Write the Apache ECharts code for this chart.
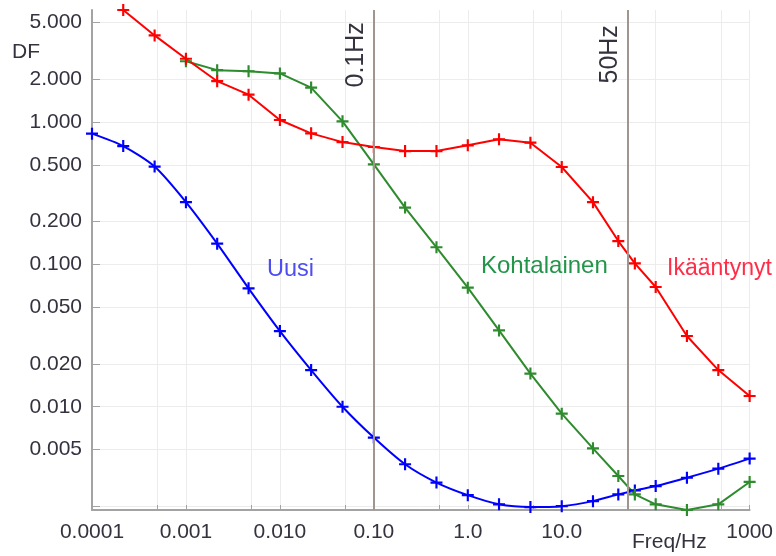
<!DOCTYPE html>
<html>
<head>
<meta charset="utf-8">
<script src="https://cdn.jsdelivr.net/npm/echarts@6/dist/echarts.min.js"></script>
<style>
  html, body { margin: 0; padding: 0; background: #ffffff; }
  #chart { width: 776px; height: 556px; }
</style>
</head>
<body>
<div id="chart"></div>
<script>
// Measurement frequencies (Hz); 50 Hz itself is skipped (40 and 60 Hz instead)
const freqs = [0.0001, 0.000215, 0.000464, 0.001, 0.00215, 0.00464, 0.01, 0.0215, 0.0464,
               0.1, 0.215, 0.464, 1, 2.15, 4.64, 10, 21.5, 40, 60, 100, 215, 464, 1000];

// Dissipation factor per insulation condition
const uusi = [0.830, 0.679, 0.487, 0.274, 0.140, 0.0679, 0.0340, 0.0181, 0.0100, 0.00607,
              0.00394, 0.00293, 0.00239, 0.00206, 0.00197, 0.00200, 0.00217, 0.00242,
              0.00258, 0.00277, 0.00317, 0.00367, 0.00432];
const kohtalainen = [null, null, null, 2.68, 2.32, 2.28, 2.20, 1.75, 1.013, 0.505, 0.251,
                     0.132, 0.0687, 0.0344, 0.0171, 0.00894, 0.00510, 0.00326, 0.00242,
                     0.00206, 0.00188, 0.00206, 0.00296];
const ikaantynyt = [null, 6.14, 4.07, 2.79, 1.94, 1.56, 1.036, 0.834, 0.724, 0.669, 0.626,
                    0.626, 0.687, 0.757, 0.717, 0.484, 0.274, 0.146, 0.1016, 0.0694,
                    0.0314, 0.0181, 0.0119];

const seriesNames = ['Uusi', 'Kohtalainen', 'Ikääntynyt'];

// Axis ticks and labels
const xTicks = [0.0001, 0.0005, 0.001, 0.005, 0.01, 0.05, 0.1, 0.5, 1, 5, 10, 50, 100, 500, 1000];
const xLabelValues = [0.0001, 0.001, 0.01, 0.1, 1, 10, 1000];
const xLabelTexts = ['0.0001', '0.001', '0.010', '0.10', '1.0', '10.0', '1000'];
const yTicks = [5, 2, 1, 0.5, 0.2, 0.1, 0.05, 0.02, 0.01, 0.005, 0.002];
const yLabelValues = [5, 2, 1, 0.5, 0.2, 0.1, 0.05, 0.02, 0.01, 0.005];
const yLabelTexts = ['5.000', '2.000', '1.000', '0.500', '0.200', '0.100', '0.050', '0.020', '0.010', '0.005'];

// Reference frequencies marked with vertical lines
const refFreqs = [0.1, 50];
const refTexts = ['0.1Hz', '50Hz'];

const FONT = '"Liberation Sans", Arial, sans-serif';
const TEXT_COLOR = '#33333f';
const AXIS_COLOR = '#a3a3a3';
const GRID_COLOR = '#ececec';
const COLORS = ['#0000ff', '#2e8b2e', '#ff0000'];
const LABEL_COLORS = ['#4d4df2', '#23954a', '#ff2d48'];
const PLUS = 'path://M0,4.1H10V5.9H0ZM4.1,0H5.9V10H4.1Z';

function lookup(values, texts, v) {
  for (let i = 0; i < values.length; i++) {
    if (Math.abs(Math.log10(values[i]) - Math.log10(v)) < 1e-6) return texts[i];
  }
  return '';
}

function pairs(ys) {
  return freqs.map((f, i) => (ys[i] == null ? null : [f, ys[i]])).filter(p => p);
}

const allValues = [].concat(uusi, kohtalainen, ikaantynyt).filter(v => v != null);
const yMin = Math.min.apply(null, allValues);
const yMax = Math.max.apply(null, allValues);

const chart = echarts.init(document.getElementById('chart'), null, { renderer: 'canvas' });

function lineSeries(name, ys, idx, smooth) {
  return {
    name: name,
    type: 'line',
    data: pairs(ys),
    smooth: smooth,
    symbol: PLUS,
    symbolSize: 12,
    showSymbol: true,
    showAllSymbol: true,
    lineStyle: { color: COLORS[idx], width: 2 },
    itemStyle: { color: COLORS[idx] },
    z: 3
  };
}

const option = {
  animation: false,
  backgroundColor: '#ffffff',
  grid: { left: 92, right: 22, top: 10, bottom: 46 },
  xAxis: {
    type: 'log',
    logBase: 10,
    min: freqs[0],
    max: freqs[freqs.length - 1],
    axisLine: { show: true, onZero: false, lineStyle: { color: AXIS_COLOR, width: 2 } },
    axisTick: { show: true, inside: true, length: 5, customValues: xTicks, lineStyle: { color: AXIS_COLOR, width: 1 } },
    axisLabel: {
      customValues: xLabelValues,
      formatter: v => lookup(xLabelValues, xLabelTexts, v),
      margin: 12, fontSize: 21, color: TEXT_COLOR, fontFamily: FONT
    },
    splitLine: { show: true, lineStyle: { color: GRID_COLOR, width: 1 } },
    minorTick: { show: false },
    minorSplitLine: { show: false }
  },
  yAxis: {
    type: 'log',
    logBase: 10,
    min: yMin,
    max: yMax,
    axisLine: { show: true, onZero: false, lineStyle: { color: AXIS_COLOR, width: 2 } },
    axisTick: { show: true, inside: true, length: 8, customValues: yTicks, lineStyle: { color: AXIS_COLOR, width: 1 } },
    axisLabel: {
      customValues: yLabelValues,
      formatter: v => lookup(yLabelValues, yLabelTexts, v),
      margin: 10, fontSize: 21, color: TEXT_COLOR, fontFamily: FONT
    },
    splitLine: { show: true, lineStyle: { color: GRID_COLOR, width: 1 } },
    minorTick: { show: false },
    minorSplitLine: { show: false }
  },
  series: [
    {
      name: 'ref',
      type: 'line',
      data: [],
      z: 1,
      markLine: {
        silent: true,
        symbol: ['none', 'none'],
        label: { show: false },
        lineStyle: { color: '#a0968f', width: 2, type: 'solid' },
        data: refFreqs.map(f => ({ xAxis: f }))
      }
    },
    lineSeries(seriesNames[0], uusi, 0, 0.25),
    lineSeries(seriesNames[1], kohtalainen, 1, false),
    lineSeries(seriesNames[2], ikaantynyt, 2, false)
  ]
};

chart.setOption(option);

// Text annotations: axis names, series names, reference line captions
const graphics = [
  { type: 'text', x: 12, y: 52, style: { text: 'DF', font: '21px ' + FONT, fill: TEXT_COLOR, textVerticalAlign: 'middle' } },
  { type: 'text', x: 632, y: 542, style: { text: 'Freq/Hz', font: '21px ' + FONT, fill: TEXT_COLOR, textVerticalAlign: 'middle' } },
  { type: 'text', x: 267, y: 270, style: { text: seriesNames[0], font: '23.5px ' + FONT, fill: LABEL_COLORS[0], textVerticalAlign: 'middle' } },
  { type: 'text', x: 481, y: 266, style: { text: seriesNames[1], font: '24px ' + FONT, fill: LABEL_COLORS[1], textVerticalAlign: 'middle' } },
  { type: 'text', x: 667, y: 268.5, style: { text: seriesNames[2], font: '23px ' + FONT, fill: LABEL_COLORS[2], textVerticalAlign: 'middle' } }
];
refFreqs.forEach((f, i) => {
  const px = chart.convertToPixel({ xAxisIndex: 0 }, f);
  graphics.push({
    type: 'text',
    x: px - 17.5,
    y: i === 0 ? 87.5 : 83.5,
    rotation: Math.PI / 2,
    style: { text: refTexts[i], font: '25px ' + FONT, fill: TEXT_COLOR, textAlign: 'left', textVerticalAlign: 'middle' }
  });
});
chart.setOption({ graphic: graphics });
</script>
</body>
</html>
